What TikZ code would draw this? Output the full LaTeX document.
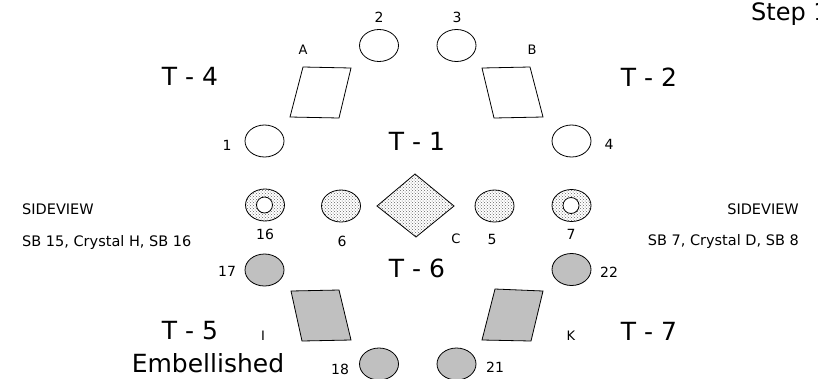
\documentclass[tikz,border=0pt]{standalone}
\usepackage{fontspec}
\setmainfont{DejaVu Sans}
\usetikzlibrary{shapes.geometric,patterns}
\definecolor{stonegray}{HTML}{C0C0C0}
\begin{document}
\begin{tikzpicture}[x=1pt,y=-1pt,
  stone/.style={ellipse,draw,line width=0.8pt,minimum width=39pt,minimum height=32pt,inner sep=0pt},
  plainstone/.style={stone,fill=white},
  dotstone/.style={stone,pattern=crosshatch dots,pattern color=black!60},
  greystone/.style={stone,fill=stonegray},
  hole/.style={circle,draw,line width=0.8pt,fill=white,minimum size=16pt,inner sep=0pt},
  plate/.style={draw,line width=0.8pt,line join=miter},
  bigtxt/.style={inner sep=0pt,font=\fontsize{25}{28}\selectfont},
  steptxt/.style={inner sep=0pt,font=\fontsize{24}{28}\selectfont},
  numtxt/.style={inner sep=0pt,font=\fontsize{14}{16}\selectfont},
  lettxt/.style={inner sep=0pt,font=\fontsize{13}{15}\selectfont},
  sidetxt/.style={inner sep=0pt,font=\fontsize{14.5}{17}\selectfont}
]
\useasboundingbox (0,0) rectangle (818,378);
\fill[white] (0,0) rectangle (818,378);

% stones
\node[plainstone] (s2) at (379,45.5) {};
\node[plainstone] (s3) at (456.5,45.5) {};
\node[plainstone] (s1) at (264.5,141) {};
\node[plainstone] (s4) at (571.5,141) {};
\node[dotstone] (s16) at (265,205) {};
\node[hole] (h16) at (264.5,205) {};
\node[dotstone] (s6) at (341,206) {};
\node[dotstone] (s5) at (494.5,206) {};
\node[dotstone] (s7) at (571.5,205.5) {};
\node[hole] (h7) at (571,205.5) {};
\node[greystone] (s17) at (264.5,270) {};
\node[greystone] (s22) at (571.5,269.5) {};
\node[greystone] (s18) at (379,364) {};
\node[greystone] (s21) at (456.5,364) {};

% plates
\draw[plate,fill=white] (303,67) -- (351,68) -- (339,118) -- (290,117) -- cycle;
\draw[plate,fill=white] (482,68) -- (530,67) -- (543,117) -- (494,118) -- cycle;
\draw[plate,fill=stonegray] (291,291) -- (339,290) -- (351,340) -- (302,341) -- cycle;
\draw[plate,fill=stonegray] (495,289) -- (543,291) -- (531,341) -- (482,340) -- cycle;
\draw[plate,pattern=crosshatch dots,pattern color=black!60] (377,206) -- (415,174) -- (454,206) -- (416,237) -- cycle;

% labels
\node[numtxt] (l2) at (379,17) {2};
\node[numtxt] (l3) at (457,17) {3};
\node[lettxt] (lA) at (303,50) {A};
\node[lettxt] (lB) at (532,50) {B};
\node[bigtxt] (t4) at (190,76) {T - 4};
\node[bigtxt] (t2) at (649,77) {T - 2};
\node[numtxt] (l1) at (227,145) {1};
\node[numtxt] (l4) at (609,144) {4};
\node[bigtxt] (t1) at (417,141) {T - 1};
\node[steptxt,anchor=base west] (step) at (751,20) {Step 1};

\node[sidetxt,anchor=base west] (svl) at (22,214) {SIDEVIEW};
\node[sidetxt,anchor=base west] (sbl) at (22,246) {SB 15, Crystal H, SB 16};
\node[sidetxt,anchor=base east] (svr) at (799,214) {SIDEVIEW};
\node[sidetxt,anchor=base east] (sbr) at (799,245) {SB 7, Crystal D, SB 8};

\node[numtxt] (l16) at (265,234) {16};
\node[numtxt] (l6) at (342,241) {6};
\node[lettxt] (lC) at (456,239) {C};
\node[numtxt] (l5) at (492,239) {5};
\node[numtxt] (l7) at (571,234) {7};
\node[numtxt] (l17) at (227,271) {17};
\node[numtxt] (l22) at (609,272) {22};
\node[bigtxt] (t6) at (417,268) {T - 6};

\node[bigtxt] (t5) at (190,331) {T - 5};
\node[lettxt] (lI) at (263,336) {I};
\node[lettxt] (lK) at (571,336) {K};
\node[bigtxt] (t7) at (649,331) {T - 7};
\node[bigtxt,anchor=base] (emb) at (208,372.5) {Embellished};
\node[numtxt] (l18) at (340,369) {18};
\node[numtxt] (l21) at (495,367) {21};
\end{tikzpicture}
\end{document}
